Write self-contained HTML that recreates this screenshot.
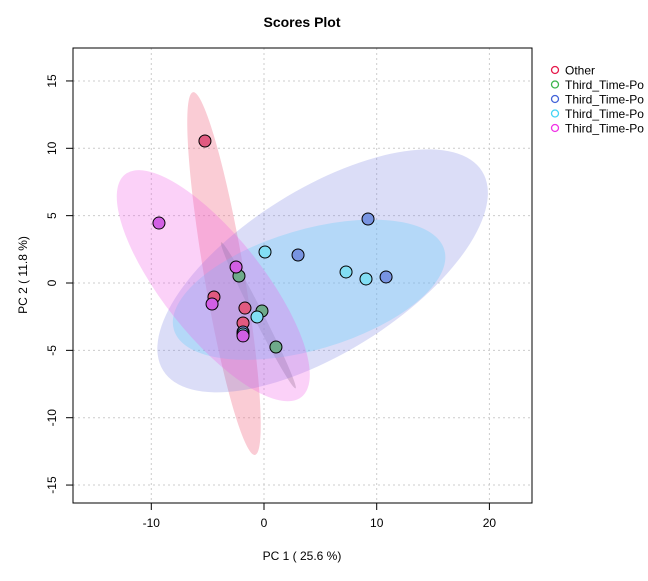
<!DOCTYPE html>
<html><head><meta charset="utf-8"><style>
body{margin:0;background:#fff}
svg text{font-family:"Liberation Sans",Arial,sans-serif;}
</style></head><body>
<svg id="c" width="648" height="576" viewBox="0 0 648 576" xmlns="http://www.w3.org/2000/svg">
<text x="302" y="27" text-anchor="middle" font-size="14" font-weight="bold">Scores Plot</text>
<g id="grid"></g>
<g id="ell"></g>
<g id="pts"></g>
<rect x="73" y="48" width="459" height="455" fill="none" stroke="#000" stroke-width="1"/>
<g id="axes"></g>
<text x="302" y="560" text-anchor="middle" font-size="12">PC 1 ( 25.6 %)</text>
<text x="27" y="275" text-anchor="middle" font-size="12" transform="rotate(-90 27 275)">PC 2 ( 11.8 %)</text>
<g id="legend"></g>
</svg>
<script>
const xTicks=[-10,0,10,20];
const yTicks=[-15,-10,-5,0,5,10,15];
const groups=["Other","Third_Time-Po","Third_Time-Po","Third_Time-Po","Third_Time-Po"];
const strokeCols=["#e6194b","#3cb44b","#4363d8","#42d4f4","#f032e6"];
const fillCols=["rgb(225,90,128)","rgb(110,170,138)","rgb(120,148,225)","rgb(130,222,244)","rgb(210,95,228)"];
const ellFill=["rgba(240,110,135,0.35)","rgba(120,130,120,0.35)","rgba(110,120,225,0.25)","rgba(110,205,250,0.35)","rgba(240,90,230,0.28)"];
const pcOther=[[-5.24,10.54],[-4.44,-1.04],[-1.69,-1.86],[-1.86,-2.97]];
const pcGreen=[[-2.22,0.52],[-0.18,-2.08],[1.06,-4.75]];
const pcBlue=[[9.23,4.75],[3.02,2.08],[10.83,0.45],[-1.86,-3.64]];
const pcCyan=[[0.09,2.30],[7.28,0.82],[9.05,0.30],[-0.62,-2.52],[-1.86,-3.79]];
const pcMagenta=[[-9.32,4.45],[-2.48,1.19],[-4.61,-1.56],[-1.86,-3.93]];
const ellCx=[-3.55,-0.5,5.2,4.0,-4.5];
const ellCy=[0.7,-2.4,0.9,-0.5,-0.2];
const ellA=[184,82,188,141,142];
const ellB=[20,5,82,60,50];
const ellAng=[80.3,63,-32,-16.5,51.6];
const series=[pcOther,pcGreen,pcBlue,pcCyan,pcMagenta];
const X=v=>264+v*11.27, Y=v=>283-v*13.47;
const NS="http://www.w3.org/2000/svg";
function mk(t,a,p){const e=document.createElementNS(NS,t);for(const k in a)e.setAttribute(k,a[k]);p.appendChild(e);return e;}
const grid=document.getElementById('grid'),axes=document.getElementById('axes');
xTicks.forEach(t=>{
 const g=mk('line',{x1:X(t),x2:X(t),y1:48,y2:503,stroke:'#ccc','stroke-dasharray':'2,3'},grid);
 
 
 const tk=mk('line',{x1:X(t),x2:X(t),y1:503,y2:510,stroke:'#000'},axes);
 
 
 const l=mk('text',{x:X(t),y:527,'text-anchor':'middle','font-size':12},axes);l.textContent=t;
 
 
});
yTicks.forEach(t=>{
 const g=mk('line',{y1:Y(t),y2:Y(t),x1:73,x2:532,stroke:'#ccc','stroke-dasharray':'2,3'},grid);
 
 
 const tk=mk('line',{y1:Y(t),y2:Y(t),x1:66,x2:73,stroke:'#000'},axes);
 
 
 const l=mk('text',{x:56,y:Y(t),'text-anchor':'middle','font-size':12,transform:`rotate(-90 56 ${Y(t)})`},axes);l.textContent=t;
 
 
});
const ell=document.getElementById('ell');
[0,1,2,3,4].forEach(i=>{
 const cx=X(ellCx[i]),cy=Y(ellCy[i]);
 const e=mk('ellipse',{cx:cx,cy:cy,rx:ellA[i],ry:ellB[i],fill:ellFill[i],transform:`rotate(${ellAng[i]} ${cx} ${cy})`},ell);
 
 
});
const pts=document.getElementById('pts');
series.forEach((s,i)=>s.forEach(p=>{
 const c=mk('circle',{cx:X(p[0]),cy:Y(p[1]),r:6,fill:fillCols[i],stroke:'#000','stroke-width':1},pts);
 
 
}));
const lg=document.getElementById('legend');
groups.forEach((g,i)=>{
 const y=71+i*14.5;
 const c=mk('circle',{cx:555,cy:y-1,r:3.5,fill:'none',stroke:strokeCols[i],'stroke-width':1.3},lg);
 
 
 const t=mk('text',{x:565,y:y+3.5,'font-size':12},lg);t.textContent=g;
 
 
});
</script>
</body></html>
